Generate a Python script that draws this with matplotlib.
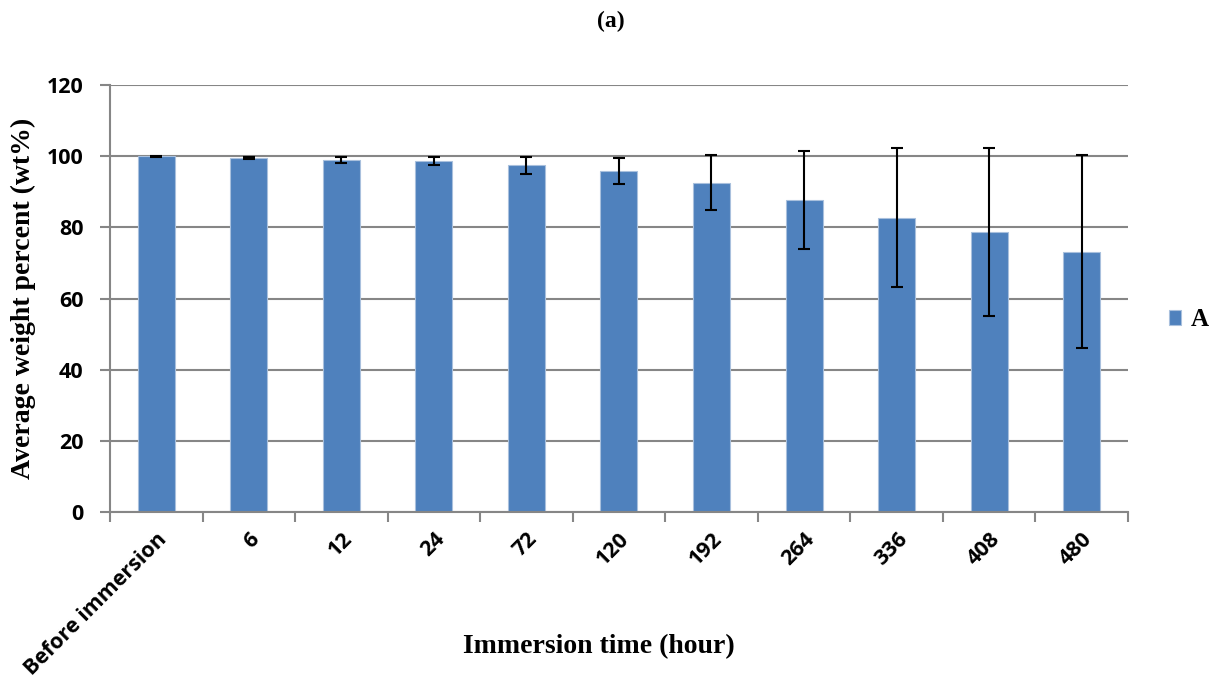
import matplotlib
matplotlib.use('Agg')
import matplotlib.pyplot as plt
import numpy as np

categories = ['Before immersion', '6', '12', '24', '72', '120', '192', '264', '336', '408', '480']
weight_pct = [100.0, 99.6, 99.0, 98.6, 97.4, 95.8, 92.6, 87.6, 82.7, 78.7, 73.2]
weight_err = [0.1, 0.3, 0.9, 1.2, 2.3, 3.7, 7.8, 13.8, 19.5, 23.7, 27.2]

BAR_COLOR = '#4F81BD'
GRID_COLOR = '#868686'
TICK_FONT = 'Open Sans'
LABEL_FONT = 'Liberation Serif'

fig = plt.figure(figsize=(12.22, 6.86), dpi=100)
ax = fig.add_axes([0.090, 0.2536, 0.833, 0.6224])

x = np.arange(len(categories))
ax.bar(x, weight_pct, width=0.4, color=BAR_COLOR, edgecolor='#a9c0dd', linewidth=0.8,
       label='A', zorder=2)
ax.errorbar(x, weight_pct, yerr=weight_err, fmt='none', ecolor='black', elinewidth=1.5,
            capsize=4.5, capthick=1.5, zorder=3)

ax.set_xlim(-0.5, len(categories) - 0.5)
ax.set_ylim(0, 120)
ax.set_yticks(range(0, 121, 20))
ax.yaxis.grid(True, color=GRID_COLOR, linewidth=1.5, zorder=1)
ax.set_axisbelow(True)

for side in ['top', 'right']:
    ax.spines[side].set_visible(False)
for side in ['left', 'bottom']:
    ax.spines[side].set_color(GRID_COLOR)
    ax.spines[side].set_linewidth(1.5)

# category boundary ticks on x, labels at centres
ax.set_xticks(np.arange(-0.5, len(categories), 1.0))
ax.set_xticklabels([])
ax.set_xticks(x, minor=True)
ax.set_xticklabels(categories, minor=True, rotation=45, ha='right', va='top',
                   rotation_mode='anchor', fontsize=15.5, fontweight='bold', family=TICK_FONT)
ax.tick_params(axis='x', which='major', direction='out', length=7, width=1.5, color=GRID_COLOR)
ax.tick_params(axis='x', which='minor', length=0, pad=12)
ax.tick_params(axis='y', direction='out', length=7, width=1.5, color=GRID_COLOR, pad=12)
for lbl in ax.get_yticklabels():
    lbl.set_fontsize(15.5)
    lbl.set_fontweight('bold')
    lbl.set_family(TICK_FONT)

ax.set_xlabel('Immersion time (hour)', fontsize=20, fontweight='bold', family=LABEL_FONT)
ax.set_ylabel('Average weight percent (wt%)', fontsize=20, fontweight='bold', family=LABEL_FONT)
ax.xaxis.set_label_coords(0.48, -0.285)
ax.yaxis.set_label_coords(-0.073, 0.50)

fig.text(0.5, 0.968, '(a)', ha='center', va='center', fontsize=17, fontweight='bold', family=LABEL_FONT)

ax.legend(loc='center left', bbox_to_anchor=(1.018, 0.45), frameon=False, handlelength=0.5,
          handleheight=0.5, handletextpad=0.4,
          prop={'family': LABEL_FONT, 'weight': 'bold', 'size': 18})

fig.savefig('out.png', dpi=100)
